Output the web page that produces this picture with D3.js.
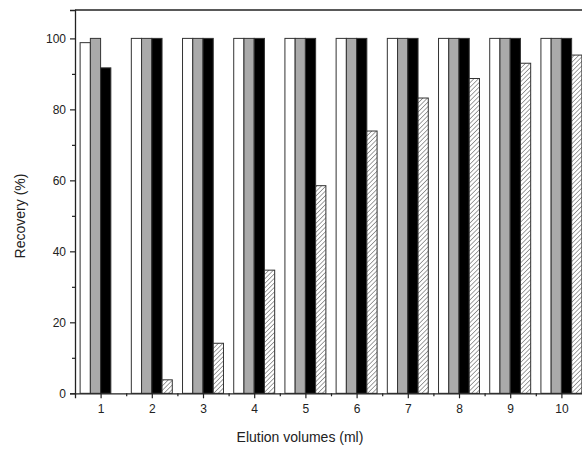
<!DOCTYPE html>
<html><head><meta charset="utf-8">
<script src="https://cdn.jsdelivr.net/npm/d3@7"></script>
<style>body{margin:0;background:#fff}svg{display:block}text{font-family:"Liberation Sans",Arial,sans-serif;fill:#222}</style>
</head><body><svg id="c" width="582" height="450"></svg>
<script>
const categories = [1,2,3,4,5,6,7,8,9,10];
const seriesWhite = [98.8,100,100,100,100,100,100,100,100,100];
const seriesGray = [100,100,100,100,100,100,100,100,100,100];
const seriesBlack = [91.7,100,100,100,100,100,100,100,100,100];
const seriesHatched = [0,3.8,14.1,34.7,58.5,73.9,83.2,88.7,93.0,95.3];
const yTicks = [0,20,40,60,80,100];
const seriesList = [seriesWhite, seriesGray, seriesBlack, seriesHatched];
const fills = ["#ffffff", "#aaaaaa", "#000000", "url(#hatch)"];

const svg = d3.select("#c");
const defs = svg.append("defs");
const pat = defs.append("pattern").attr("id","hatch").attr("patternUnits","userSpaceOnUse")
  .attr("width",3.2).attr("height",3.2).attr("patternTransform","rotate(45)");
pat.append("rect").attr("width",3.2).attr("height",3.2).attr("fill","#fff");
pat.append("line").attr("x1",0).attr("y1",0).attr("x2",0).attr("y2",3.2).attr("stroke","#555").attr("stroke-width",1.1);

const x = d3.scaleLinear().domain([0.5,10.5]).range([75,587]);
const y = d3.scaleLinear().domain([0,108]).range([393.3,10]);
const groupW = (x(1)-x(0))*0.8;
const barW = groupW/4;

const g = svg.append("g");
seriesList.forEach((s,si)=>{
  g.selectAll(null).data(categories.map((c,i)=>({c,v:s[i]})).filter(d=>d.v>0)).enter().append("rect")
    .attr("x",d=>x(d.c)-groupW/2+si*barW)
    .attr("y",d=>y(d.v))
    .attr("width",barW)
    .attr("height",d=>y(0)-y(d.v))
    .attr("fill",fills[si])
    .attr("stroke","#333").attr("stroke-width",1);
});

// frame top
svg.append("line").attr("x1",x(0.5)).attr("x2",x(10.5)).attr("y1",y(108)).attr("y2",y(108)).attr("stroke","#222").attr("stroke-width",1.3);

// y axis
const yAx = svg.append("g").attr("transform",`translate(${x(0.5)},0)`)
  .call(d3.axisLeft(y).tickValues(yTicks).tickSize(5).tickPadding(4));
yAx.selectAll("text").attr("font-size",12);
svg.append("g").attr("transform",`translate(${x(0.5)},0)`)
  .call(d3.axisLeft(y).tickValues([10,30,50,70,90]).tickSize(3).tickFormat(""))
  .select(".domain").remove();
// x axis
const xAx = svg.append("g").attr("transform",`translate(0,${y(0)})`)
  .call(d3.axisBottom(x).tickValues(categories).tickSize(5).tickPadding(6).tickFormat(d3.format("d")));
xAx.selectAll("text").attr("font-size",12);
svg.append("g").attr("transform",`translate(0,${y(0)})`)
  .call(d3.axisBottom(x).tickValues([1.5,2.5,3.5,4.5,5.5,6.5,7.5,8.5,9.5]).tickSize(3).tickFormat(""))
  .select(".domain").remove();
svg.selectAll(".domain").attr("stroke","#222").attr("stroke-width",1.3);
svg.selectAll(".tick line").attr("stroke","#222").attr("stroke-width",1.2);
svg.selectAll(".tick text").attr("fill","#222").attr("font-family","Liberation Sans, Arial, sans-serif");

svg.append("text").attr("x",300).attr("y",442).attr("text-anchor","middle").attr("font-size",14).text("Elution volumes (ml)");
svg.append("text").attr("transform","translate(25,216) rotate(-90)").attr("text-anchor","middle").attr("font-size",14).text("Recovery (%)");
</script></body></html>
